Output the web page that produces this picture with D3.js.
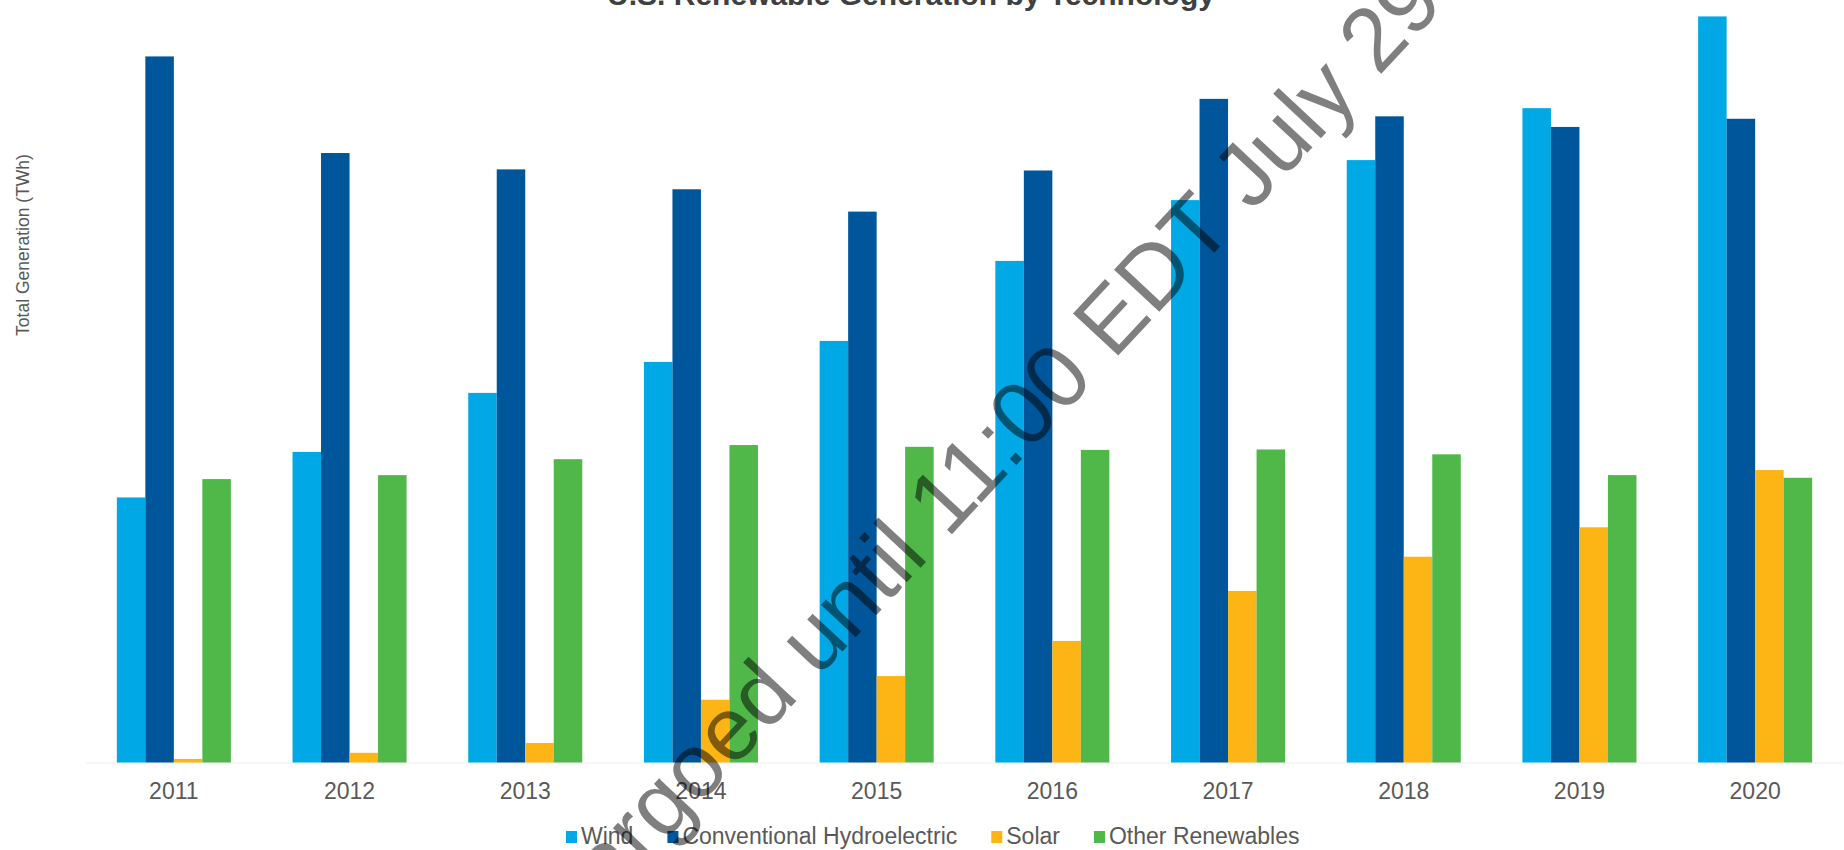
<!DOCTYPE html>
<html>
<head>
<meta charset="utf-8">
<script src="https://cdn.jsdelivr.net/npm/d3@7/dist/d3.min.js"></script>
<style>
  html, body { margin: 0; padding: 0; background: #ffffff; }
  svg { display: block; }
  text { font-family: "Liberation Sans", Arial, Helvetica, sans-serif; }
</style>
</head>
<body>
<svg id="chart" width="1844" height="850"></svg>
<script>
// U.S. renewable generation by technology, TWh per year
const years = ["2011", "2012", "2013", "2014", "2015", "2016", "2017", "2018", "2019", "2020"];
const windTWh  = [119.9, 140.5, 167.2, 181.2, 190.7, 226.9, 254.4, 272.5, 296.0, 337.5];
const hydroTWh = [319.4, 275.7, 268.3, 259.3, 249.2, 267.8, 300.2, 292.3, 287.5, 291.2];
const solarTWh = [1.6, 4.4, 8.8, 28.4, 39.1, 55.0, 77.6, 93.1, 106.4, 132.3];
const otherTWh = [128.2, 130.0, 137.2, 143.6, 142.8, 141.4, 141.6, 139.4, 130.0, 128.8];

const seriesNames  = ["Wind", "Conventional Hydroelectric", "Solar", "Other Renewables"];
const seriesValues = [windTWh, hydroTWh, solarTWh, otherTWh];
const seriesColors = ["#00a9e6", "#00569b", "#fdb515", "#4fb848"];

const baseY = 762.5;
const svg = d3.select("#chart");

// grouped band scales
const x0 = d3.scaleBand().domain(years).range([86, 1843]).paddingInner(0.351).paddingOuter(0.1755);
const x1 = d3.scaleBand().domain(seriesNames).range([0, x0.bandwidth()]);
const y = d3.scaleLinear().domain([0, 340.4]).range([baseY, 10]);

const rows = years.map((yr, i) => ({
  year: yr,
  values: seriesNames.map((name, k) => ({ name, value: seriesValues[k][i], color: seriesColors[k] }))
}));

// faint baseline
svg.append("line")
  .attr("x1", 86).attr("x2", 1843)
  .attr("y1", baseY + 0.5).attr("y2", baseY + 0.5)
  .attr("stroke", "#ededed").attr("stroke-width", 1);

// bars
const groups = svg.append("g").selectAll("g")
  .data(rows).join("g")
  .attr("transform", d => `translate(${x0(d.year)},0)`);

groups.selectAll("rect")
  .data(d => d.values).join("rect")
  .attr("x", d => x1(d.name))
  .attr("width", x1.bandwidth())
  .attr("y", d => y(d.value))
  .attr("height", d => y(0) - y(d.value))
  .attr("fill", d => d.color);

// category axis
const xAxis = svg.append("g")
  .attr("transform", `translate(0,${baseY})`)
  .call(d3.axisBottom(x0).tickSize(0).tickPadding(20.5));
xAxis.select(".domain").remove();
xAxis.selectAll("text")
  .style("font-family", '"Liberation Sans", Arial, sans-serif')
  .attr("font-size", 23)
  .attr("fill", "#595959");

// title (partly above the top edge)
svg.append("text")
  .attr("x", 911).attr("y", 4.5)
  .attr("text-anchor", "middle")
  .attr("font-size", 30).attr("font-weight", "bold")
  .attr("fill", "#404040")
  .text("U.S. Renewable Generation by Technology");

// y-axis title
svg.append("text")
  .attr("transform", "translate(29,245) rotate(-90)")
  .attr("text-anchor", "middle")
  .attr("font-size", 17.5)
  .attr("fill", "#595959")
  .text("Total Generation (TWh)");

// legend
const legend = svg.append("g").attr("transform", "translate(566,0)");
let lx = 0;
seriesNames.forEach((name, k) => {
  const item = legend.append("g").attr("transform", `translate(${lx},0)`);
  item.append("rect")
    .attr("x", 0).attr("y", 831)
    .attr("width", 11).attr("height", 12)
    .attr("fill", seriesColors[k]);
  const t = item.append("text")
    .attr("x", 15).attr("y", 843.5)
    .attr("font-size", 23)
    .attr("fill", "#595959")
    .text(name);
  lx += 15 + t.node().getComputedTextLength() + 34;
});

// embargo notice across the plot
const notice = "Embargoed until 11:00 EDT July 29";
const wm = svg.append("g").attr("transform", "translate(1118,356) rotate(-47)");
const wmText = wm.append("text")
  .attr("font-size", 90)
  .attr("fill", "#000000")
  .attr("fill-opacity", 0.5)
  .text(notice);
const lead = wmText.node().getSubStringLength(0, notice.indexOf("EDT"));
wmText.attr("x", -lead - 7);
</script>
</body>
</html>
